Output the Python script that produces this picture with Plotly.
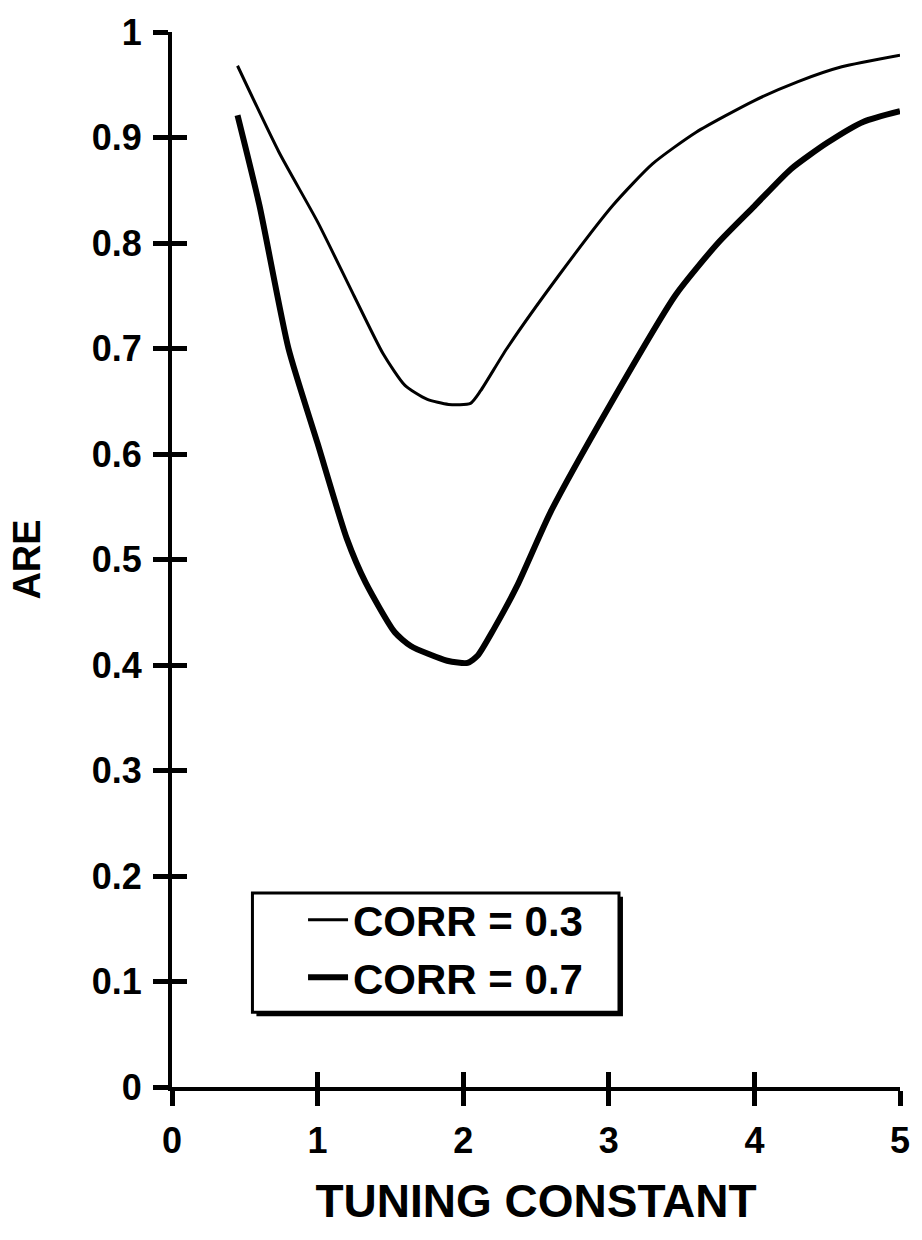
import plotly.graph_objects as go

# ---- data ----
tuning_03 = [0.45, 0.735, 1.0, 1.25, 1.45, 1.6, 1.75, 1.9, 2.05, 2.12, 2.3, 2.65, 3.03, 3.3, 3.6, 4.0, 4.3, 4.6, 5.0]
are_03 = [0.968, 0.886, 0.82, 0.75, 0.695, 0.665, 0.652, 0.647, 0.648, 0.66, 0.70, 0.768, 0.836, 0.875, 0.905, 0.935, 0.953, 0.967, 0.978]

tuning_07 = [0.45, 0.6, 0.8, 1.0, 1.2, 1.33, 1.53, 1.64, 1.89, 2.03, 2.10, 2.21, 2.37, 2.6, 3.01, 3.46, 3.75, 4.0, 4.25, 4.5, 4.75, 5.0]
are_07 = [0.921, 0.836, 0.70, 0.61, 0.52, 0.478, 0.431, 0.418, 0.404, 0.402, 0.409, 0.434, 0.475, 0.545, 0.647, 0.751, 0.80, 0.835, 0.87, 0.895, 0.915, 0.925]

x_ticks = [0, 1, 2, 3, 4, 5]
x_tick_text = ["0", "1", "2", "3", "4", "5"]
y_ticks = [0, 0.1, 0.2, 0.3, 0.4, 0.5, 0.6, 0.7, 0.8, 0.9, 1.0]
y_tick_text = ["0", "0.1", "0.2", "0.3", "0.4", "0.5", "0.6", "0.7", "0.8", "0.9", "1"]

FONT = "Liberation Sans, Arial, sans-serif"

fig = go.Figure()
fig.add_trace(go.Scatter(x=tuning_03, y=are_03, mode="lines", name="CORR = 0.3",
                         line=dict(color="black", width=3, shape="spline", smoothing=0.6)))
fig.add_trace(go.Scatter(x=tuning_07, y=are_07, mode="lines", name="CORR = 0.7",
                         line=dict(color="black", width=6, shape="spline", smoothing=0.6)))
# invisible trace to activate the overlay axes (inside half of the crossing ticks)
fig.add_trace(go.Scatter(x=tuning_07, y=are_07, mode="lines", xaxis="x2", yaxis="y2",
                         line=dict(color="rgba(0,0,0,0)", width=0), showlegend=False, hoverinfo="skip"))

tickfont = dict(family=FONT, size=36, color="black", weight="bold")

# legend frame (box with drop shadow), in paper coordinates
box_x0, box_x1, box_y0, box_y1 = 0.1105, 0.614, 0.0708, 0.184
sh_dx, sh_dy = 4 / 733, 4 / 1060

fig.update_layout(
    width=922, height=1240,
    margin=dict(l=172, r=17, t=27, b=153),
    paper_bgcolor="white", plot_bgcolor="white",
    showlegend=True,
    legend=dict(x=0.18, y=0.1906, xanchor="left", yanchor="top",
                bgcolor="rgba(0,0,0,0)", borderwidth=0,
                font=dict(family=FONT, size=42, color="black", weight="bold"),
                itemwidth=40, tracegroupgap=0),
    xaxis=dict(range=[0, 5], tickvals=x_ticks, ticktext=x_tick_text,
               showgrid=False, zeroline=False, showline=True, linecolor="black", linewidth=4,
               ticks="outside", ticklen=15, tickwidth=5, tickcolor="black",
               tickfont=tickfont, ticklabelstandoff=4,
               title=dict(text="TUNING CONSTANT", standoff=26,
                          font=dict(family=FONT, size=46, color="black", weight="bold"))),
    yaxis=dict(range=[0, 1], tickvals=y_ticks, ticktext=y_tick_text,
               showgrid=False, zeroline=False, showline=True, linecolor="black", linewidth=4,
               ticks="outside", ticklen=15, tickwidth=5, tickcolor="black",
               tickfont=tickfont, ticklabelstandoff=4,
               title=dict(text="ARE", standoff=40,
                          font=dict(family=FONT, size=38, color="black", weight="bold"))),
    xaxis2=dict(range=[0, 5], overlaying="x", anchor="y2", side="bottom", tickvals=x_ticks,
                showgrid=False, zeroline=False, showline=False, showticklabels=False,
                ticks="inside", ticklen=15, tickwidth=5, tickcolor="black"),
    yaxis2=dict(range=[0, 1], overlaying="y", anchor="x2", side="left", tickvals=y_ticks,
                showgrid=False, zeroline=False, showline=False, showticklabels=False,
                ticks="inside", ticklen=15, tickwidth=5, tickcolor="black"),
    shapes=[
        dict(type="rect", xref="paper", yref="paper",
             x0=box_x0 + sh_dx, x1=box_x1 + sh_dx, y0=box_y0 - sh_dy, y1=box_y1 - sh_dy,
             fillcolor="black", line=dict(width=0), layer="below"),
        dict(type="rect", xref="paper", yref="paper",
             x0=box_x0, x1=box_x1, y0=box_y0, y1=box_y1,
             fillcolor="white", line=dict(color="black", width=3), layer="below"),
    ],
)

fig.write_html("out.html")
